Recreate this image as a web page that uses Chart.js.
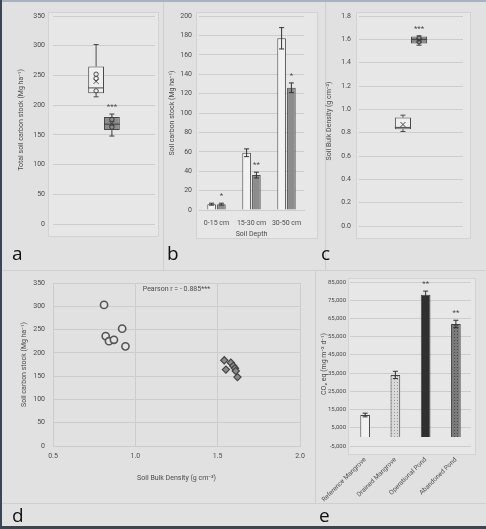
<!DOCTYPE html>
<html>
<head>
<meta charset="utf-8">
<script src="https://cdn.jsdelivr.net/npm/chart.js@4.4.1/dist/chart.umd.min.js"></script>
<style>
  html, body { margin: 0; padding: 0; }
  body { width: 486px; height: 529px; background: #e1e1e1; position: relative; overflow: hidden; }
  canvas { position: absolute; }
  .line { position: absolute; background: #cfcfcf; }
  .edge { position: absolute; }
  .letter { position: absolute; font-family: 'Open Sans', sans-serif; font-size: 19px; line-height: 19px; color: #111; }
</style>
</head>
<body>
<div class="edge" style="left:0;top:0;width:486px;height:2px;background:#aab2be"></div>
<div class="edge" style="left:0;top:0;width:2px;height:529px;background:#3d4452"></div>
<div class="edge" style="left:0;top:526px;width:486px;height:3px;background:#3d4452"></div>
<div class="line" style="left:163px;top:2px;width:1px;height:268px"></div>
<div class="line" style="left:325px;top:2px;width:1px;height:268px"></div>
<div class="line" style="left:2px;top:270px;width:484px;height:1px"></div>
<div class="line" style="left:315px;top:270px;width:1px;height:233px"></div>
<div class="line" style="left:2px;top:503px;width:484px;height:1px"></div>

<canvas id="chartA" width="163" height="250" style="left:0;top:0"></canvas>
<canvas id="chartB" width="162" height="250" style="left:163px;top:0"></canvas>
<canvas id="chartC" width="161" height="250" style="left:325px;top:0"></canvas>
<canvas id="chartD" width="315" height="235" style="left:0;top:270px"></canvas>
<canvas id="chartE" width="171" height="235" style="left:315px;top:270px"></canvas>

<div class="letter" style="left:12px;top:244px">a</div>
<div class="letter" style="left:167px;top:244px">b</div>
<div class="letter" style="left:321px;top:244px">c</div>
<div class="letter" style="left:12px;top:506px">d</div>
<div class="letter" style="left:319px;top:506px">e</div>

<script>
// a: total soil carbon stock, box plots (reference mangrove vs pond)
const stockMin = [214, 148];
const stockQ1 = [220, 158];
const stockMedian = [229, 168];
const stockQ3 = [265, 180];
const stockMax = [302, 185];
const stockMean = [240, 169];
const stockPoints = [[252, 245, 224], [176, 163]];
const stockSig = ['', '***'];

// b: soil carbon stock by depth
const depthLabels = ['0-15 cm', '15-30 cm', '30-50 cm'];
const depthRef = [6, 59, 177];
const depthRefErr = [1, 4, 11];
const depthPond = [6, 36, 126];
const depthPondErr = [1, 3, 5];
const depthSig = ['*', '**', '*'];

// c: soil bulk density, box plots
const densMin = [0.81, 1.55];
const densQ1 = [0.83, 1.565];
const densMedian = [0.845, 1.6];
const densQ3 = [0.93, 1.625];
const densMax = [0.95, 1.63];
const densMean = [0.87, 1.59];
const densPoints = [[], [1.61, 1.58]];
const densSig = ['', '***'];

// d: carbon stock vs bulk density
const refDensity = [0.81, 0.82, 0.84, 0.87, 0.92, 0.94];
const refCarbon = [303, 236, 225, 228, 252, 214];
const pondDensity = [1.54, 1.55, 1.58, 1.595, 1.605, 1.61, 1.62];
const pondCarbon = [184, 164, 179, 172, 167, 161, 148];
const pearsonText = 'Pearson r = - 0.885***';

// e: CO2 emissions by land use
const siteLabels = ['Reference Mangrove', 'Drained Mangrove', 'Operational Pond', 'Abandoned Pond'];
const co2Values = [12000, 34000, 78000, 62000];
const co2Err = [1000, 2000, 2000, 2000];
const co2Sig = ['', '', '**', '**'];

Chart.defaults.font.family = "Roboto, sans-serif";
Chart.defaults.font.size = 7;
Chart.defaults.color = '#4a4a4a';
Chart.defaults.animation = false;
Chart.defaults.responsive = false;
Chart.defaults.devicePixelRatio = 1;
Chart.defaults.plugins.legend.display = false;
Chart.defaults.plugins.tooltip.enabled = false;

const GRID = '#cdcdcd';
const INK = '#4d4d4d';

// lighter box behind plot area
const plotBox = {
    id: 'plotBox',
    beforeDraw(chart, args, opts) {
        if (!opts.pad) return;
        const { left, top, right, bottom } = chart.chartArea;
        const [l, t, r, b] = opts.pad;
        const ctx = chart.ctx;
        ctx.save();
        ctx.fillStyle = '#e7e7e7';
        ctx.strokeStyle = '#d3d3d3';
        ctx.fillRect(left - l, top - t, right - left + l + r, bottom - top + t + b);
        ctx.strokeRect(left - l + 0.5, top - t + 0.5, right - left + l + r, bottom - top + t + b);
        ctx.restore();
    }
};

// whiskers, median, mean and points for floating-bar box plots
const boxExtras = {
    id: 'boxExtras',
    afterDatasetsDraw(chart) {
        const ctx = chart.ctx, y = chart.scales.y;
        chart.data.datasets.forEach((ds, di) => {
            if (!ds.lo) return;
            chart.getDatasetMeta(di).data.forEach((bar, i) => {
                const x = bar.x, half = bar.width / 2;
                const py = v => y.getPixelForValue(v);
                ctx.save();
                ctx.strokeStyle = ds.markColor;
                ctx.lineWidth = 1;
                ctx.beginPath();
                ctx.moveTo(x, py(ds.hi[i])); ctx.lineTo(x, py(ds.data[i][1]));
                ctx.moveTo(x, py(ds.data[i][0])); ctx.lineTo(x, py(ds.lo[i]));
                ctx.moveTo(x - 2.5, py(ds.hi[i])); ctx.lineTo(x + 2.5, py(ds.hi[i]));
                ctx.moveTo(x - 2.5, py(ds.lo[i])); ctx.lineTo(x + 2.5, py(ds.lo[i]));
                ctx.moveTo(x - half, py(ds.mid[i])); ctx.lineTo(x + half, py(ds.mid[i]));
                const my = py(ds.avg[i]);
                ctx.moveTo(x - 2.5, my - 2.5); ctx.lineTo(x + 2.5, my + 2.5);
                ctx.moveTo(x + 2.5, my - 2.5); ctx.lineTo(x - 2.5, my + 2.5);
                ctx.stroke();
                ds.pts[i].forEach(v => {
                    ctx.beginPath();
                    ctx.arc(x, py(v), 2.2, 0, Math.PI * 2);
                    ctx.stroke();
                });
                if (ds.sig && ds.sig[i]) {
                    ctx.fillStyle = INK;
                    ctx.font = "8px Roboto, sans-serif";
                    ctx.textAlign = 'center';
                    ctx.textBaseline = 'bottom';
                    ctx.fillText(ds.sig[i], x, py(ds.hi[i]) - 3);
                }
                ctx.restore();
            });
        });
    }
};

// error bars and significance stars on bars
const errorBars = {
    id: 'errorBars',
    afterDatasetsDraw(chart) {
        const ctx = chart.ctx, y = chart.scales.y;
        chart.data.datasets.forEach((ds, di) => {
            if (!ds.err) return;
            chart.getDatasetMeta(di).data.forEach((bar, i) => {
                const v = ds.data[i], e = ds.err[i];
                const yt = y.getPixelForValue(v + e), yb = y.getPixelForValue(v - e);
                ctx.save();
                ctx.strokeStyle = '#333';
                ctx.lineWidth = 1;
                ctx.beginPath();
                ctx.moveTo(bar.x, yt); ctx.lineTo(bar.x, yb);
                ctx.moveTo(bar.x - 2.5, yt); ctx.lineTo(bar.x + 2.5, yt);
                ctx.moveTo(bar.x - 2.5, yb); ctx.lineTo(bar.x + 2.5, yb);
                ctx.stroke();
                if (ds.sig && ds.sig[i]) {
                    ctx.fillStyle = INK;
                    ctx.font = "8px Roboto, sans-serif";
                    ctx.textAlign = 'center';
                    ctx.textBaseline = 'bottom';
                    ctx.fillText(ds.sig[i], bar.x, yt - 3);
                }
                ctx.restore();
            });
        });
    }
};

// text placed at data coordinates
const noteText = {
    id: 'noteText',
    afterDraw(chart, args, opts) {
        if (!opts.text) return;
        const ctx = chart.ctx;
        ctx.save();
        ctx.fillStyle = INK;
        ctx.font = "7px Roboto, sans-serif";
        ctx.textAlign = 'center';
        ctx.textBaseline = 'middle';
        ctx.fillText(opts.text, chart.scales.x.getPixelForValue(opts.x), chart.scales.y.getPixelForValue(opts.y));
        ctx.restore();
    }
};

Chart.register(plotBox, boxExtras, errorBars, noteText);

function yTitle(text) {
    return { display: true, text: text, color: INK, font: { size: 7 }, padding: 0 };
}

function dotPattern(canvasId, bg, dot) {
    const c = document.createElement('canvas');
    c.width = 3; c.height = 3;
    const g = c.getContext('2d');
    g.fillStyle = bg; g.fillRect(0, 0, 3, 3);
    g.fillStyle = dot; g.fillRect(1, 1, 1, 1);
    return document.getElementById(canvasId).getContext('2d').createPattern(c, 'repeat');
}

function boxDataset(i, fill, mark, q1, q3, lo, hi, mid, avg, pts, sig) {
    return {
        data: [[q1[i], q3[i]]],
        lo: [lo[i]], hi: [hi[i]], mid: [mid[i]], avg: [avg[i]], pts: [pts[i]], sig: [sig[i]],
        backgroundColor: fill, borderColor: '#4a4a4a', borderWidth: 1, borderSkipped: false,
        markColor: mark,
        categoryPercentage: 0.31, barPercentage: 1
    };
}

// ---- a ----
new Chart(document.getElementById('chartA'), {
    type: 'bar',
    data: {
        labels: [''],
        datasets: [
            boxDataset(0, '#efefef', '#4a4a4a', stockQ1, stockQ3, stockMin, stockMax, stockMedian, stockMean, stockPoints, stockSig),
            boxDataset(1, '#8c8c8c', '#3a3a3a', stockQ1, stockQ3, stockMin, stockMax, stockMedian, stockMean, stockPoints, stockSig)
        ]
    },
    options: {
        layout: { padding: { left: 17, right: 8, top: 16, bottom: 26 } },
        plugins: { plotBox: { pad: [5, 4, 3, 12] } },
        scales: {
            x: { display: false },
            y: {
                min: 0, max: 350,
                ticks: { stepSize: 50, padding: 8 },
                grid: { color: GRID, drawTicks: false },
                border: { display: false },
                title: yTitle('Total soil carbon stock (Mg ha⁻¹)'),
                afterFit(s) { s.width = 36; }
            }
        }
    }
});

// ---- b ----
new Chart(document.getElementById('chartB'), {
    type: 'bar',
    data: {
        labels: depthLabels,
        datasets: [
            { data: depthRef, err: depthRefErr, backgroundColor: '#f2f2f2', borderColor: '#4a4a4a', borderWidth: 1,
              categoryPercentage: 0.56, barPercentage: 0.88 },
            { data: depthPond, err: depthPondErr, sig: depthSig, backgroundColor: '#8c8c8c', borderColor: '#4a4a4a', borderWidth: 1,
              categoryPercentage: 0.56, barPercentage: 0.88 }
        ]
    },
    options: {
        layout: { padding: { left: 5, right: 21, top: 16, bottom: 9 } },
        plugins: { plotBox: { pad: [3, 4, 13, 28] } },
        scales: {
            x: {
                grid: { display: false },
                border: { color: GRID },
                ticks: { padding: 1, color: INK, minRotation: 0, maxRotation: 0, autoSkip: false },
                title: { display: true, text: 'Soil Depth', color: INK, font: { size: 7 }, padding: { top: 2, bottom: 3 } },
                afterFit(s) { s.height = 31; }
            },
            y: {
                min: 0, max: 200,
                ticks: { stepSize: 20, padding: 7 },
                grid: { color: GRID, drawTicks: false },
                border: { display: false },
                title: yTitle('Soil carbon stock (Mg ha⁻¹)'),
                afterFit(s) { s.width = 31; }
            }
        }
    }
});

// ---- c ----
new Chart(document.getElementById('chartC'), {
    type: 'bar',
    data: {
        labels: [''],
        datasets: [
            boxDataset(0, '#efefef', '#4a4a4a', densQ1, densQ3, densMin, densMax, densMedian, densMean, densPoints, densSig),
            boxDataset(1, '#8c8c8c', '#3a3a3a', densQ1, densQ3, densMin, densMax, densMedian, densMean, densPoints, densSig)
        ]
    },
    options: {
        layout: { padding: { left: 0, right: 23, top: 16, bottom: 24 } },
        plugins: { plotBox: { pad: [3, 4, 7, 12] } },
        scales: {
            x: { display: false },
            y: {
                min: 0, max: 1.8,
                ticks: { stepSize: 0.2, padding: 8, callback: v => v.toFixed(1) },
                grid: { color: GRID, drawTicks: false },
                border: { display: false },
                title: yTitle('Soil Bulk Density (g cm⁻³)'),
                afterFit(s) { s.width = 34; }
            }
        }
    }
});

// ---- d ----
new Chart(document.getElementById('chartD'), {
    type: 'scatter',
    data: {
        datasets: [
            { data: refDensity.map((x, i) => ({ x: x, y: refCarbon[i] })), pointStyle: 'circle', pointRadius: 3.6,
              backgroundColor: '#e4e4e4', borderColor: '#555', borderWidth: 1.6 },
            { data: pondDensity.map((x, i) => ({ x: x, y: pondCarbon[i] })), pointStyle: 'rectRot', pointRadius: 3.6,
              backgroundColor: '#8a8a8a', borderColor: '#444', borderWidth: 1.2 }
        ]
    },
    options: {
        layout: { padding: { left: 20, right: 15, top: 13, bottom: 19 } },
        plugins: { noteText: { text: pearsonText, x: 1.25, y: 337 } },
        scales: {
            x: {
                min: 0.5, max: 2.0,
                ticks: { stepSize: 0.5, padding: 6, color: INK, callback: v => v.toFixed(1) },
                grid: { color: GRID, drawTicks: false },
                border: { color: GRID },
                title: { display: true, text: 'Soil Bulk Density (g cm⁻³)', color: INK, font: { size: 7 }, padding: { top: 4, bottom: 4 } },
                afterFit(s) { s.height = 40; }
            },
            y: {
                min: 0, max: 350,
                ticks: { stepSize: 50, padding: 8 },
                grid: { color: GRID, drawTicks: false },
                border: { color: GRID },
                title: yTitle('Soil carbon stock (Mg ha⁻¹)'),
                afterFit(s) { s.width = 33; }
            }
        }
    }
});

// ---- e ----
new Chart(document.getElementById('chartE'), {
    type: 'bar',
    data: {
        labels: siteLabels,
        datasets: [{
            data: co2Values, err: co2Err, sig: co2Sig,
            backgroundColor: [
                '#f2f2f2',
                dotPattern('chartE', '#d9d9d9', '#9a9a9a'),
                '#2f2f2f',
                dotPattern('chartE', '#7a7a7a', '#4a4a4a')
            ],
            borderColor: '#444', borderWidth: 1,
            categoryPercentage: 1, barPercentage: 0.32
        }]
    },
    options: {
        layout: { padding: { left: 5, right: 15, top: 12, bottom: 3 } },
        plugins: { plotBox: { pad: [2, 4, 4, 8] } },
        scales: {
            x: {
                grid: { display: false },
                border: { display: false },
                ticks: { minRotation: 45, maxRotation: 45, autoSkip: false, padding: 2, color: INK, font: { size: 6.5 } },
                afterFit(s) { s.height = 56; }
            },
            y: {
                min: -5000, max: 85000,
                ticks: { stepSize: 10000, padding: 4, font: { size: 6 }, callback: v => v.toLocaleString('en-US') },
                grid: { color: GRID, drawTicks: false },
                border: { display: false },
                title: yTitle('CO₂ eq (mg m⁻² d⁻¹)'),
                afterFit(s) { s.width = 30; }
            }
        }
    }
});
</script>
</body>
</html>
